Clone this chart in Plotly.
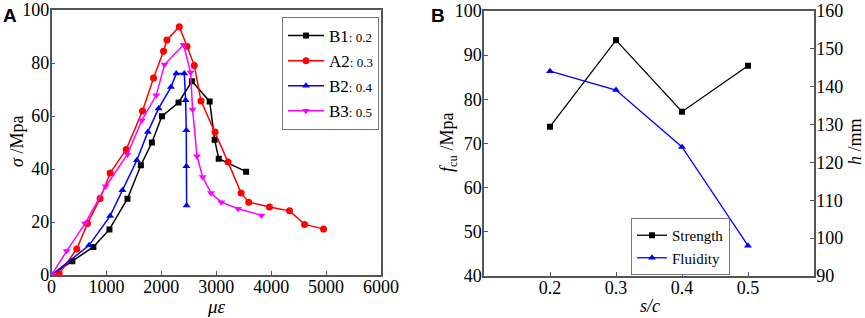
import plotly.graph_objects as go

# ---- Panel A data (stress-strain) ----
b1_x = [0, 380, 763, 1055, 1383, 1628, 1828, 2011, 2314, 2558, 2880, 2971, 3045, 3544]
b1_y = [0, 5.2, 10.6, 17.2, 28.8, 41.4, 50, 59.9, 65.1, 73.1, 65.5, 51, 43.9, 39]
a2_x = [0, 140, 460, 654, 885, 1068, 1360, 1657, 1858, 2040, 2102, 2327, 2467, 2600, 2722,
        2978, 3215, 3452, 3591, 3969, 4334, 4608, 4954]
a2_y = [0, 0.5, 9.8, 19.4, 28.9, 38.5, 47.4, 61.9, 74.3, 84.4, 88.7, 93.7, 86.3, 79.1, 65.7,
        54.0, 42.6, 30.9, 27.5, 25.7, 24.2, 19.1, 17.4]
b2_x = [0, 684, 1068, 1292, 1554, 1755, 1949, 2175, 2272, 2418, 2442, 2454, 2456, 2460]
b2_y = [0, 11.2, 22.3, 32, 43.3, 54, 62.8, 70.9, 76, 76, 65.9, 54.6, 41, 26.2]
b3_x = [0, 277, 611, 989, 1383, 1646, 1907, 2058, 2405, 2533, 2569, 2650, 2752, 2905, 3093,
        3398, 3823]
b3_y = [0, 9.1, 19.4, 33.5, 45.5, 58.4, 67.8, 79.4, 86.9, 76.4, 62.5, 44.8, 37, 30.9, 27.5,
        25, 22.5]
series_names = ["B1", "A2", "B2", "B3"]
series_ratio = ["0.2", "0.3", "0.4", "0.5"]

# ---- Panel B data ----
sc = [0.2, 0.3, 0.4, 0.5]
strength = [73.8, 93.4, 77.2, 87.6]
fluidity = [144.1, 139.1, 124.1, 98.0]

W, H = 865, 318
SERIF = "Liberation Serif, Times New Roman, serif"
AX = "#555555"

def px_x(p):
    return p / W

def px_y(p):
    return 1 - p / H

fig = go.Figure()

styles = [
    ("black", "square", 6),
    ("#ff0000", "circle", 7),
    ("#0000ff", "triangle-up", 7),
    ("#ff00ff", "triangle-down", 7),
]
data_a = [(b1_x, b1_y), (a2_x, a2_y), (b2_x, b2_y), (b3_x, b3_y)]
for (xs, ys), name, ratio, (col, sym, ms) in zip(data_a, series_names, series_ratio, styles):
    fig.add_trace(go.Scatter(
        x=xs, y=ys, mode="lines+markers",
        name=f"{name}<span style='font-size:13px'>: {ratio}</span>",
        line=dict(color=col, width=1.5),
        marker=dict(color=col, symbol=sym, size=ms),
        xaxis="x", yaxis="y", legend="legend",
    ))

fig.add_trace(go.Scatter(
    x=sc, y=strength, mode="lines+markers", name="Strength",
    line=dict(color="black", width=1.3), marker=dict(color="black", symbol="square", size=6),
    xaxis="x2", yaxis="y2", legend="legend2",
))
fig.add_trace(go.Scatter(
    x=sc, y=fluidity, mode="lines+markers", name="Fluidity",
    line=dict(color="#0000ff", width=1.3), marker=dict(color="#0000ff", symbol="triangle-up", size=7),
    xaxis="x2", yaxis="y3", legend="legend2",
))

axis_common = dict(
    showline=True, linecolor=AX, linewidth=1.5, mirror=True,
    ticks="inside", ticklen=4, tickcolor=AX, tickwidth=1.2,
    showgrid=False, zeroline=False, automargin=False,
    tickfont=dict(family=SERIF, size=18, color="black"),
    title=dict(text=""),
)
xcommon = {**axis_common, "ticklabelstandoff": -5}
ycommon = {**axis_common, "ticklabelstandoff": -3}

fig.update_layout(
    template="none",
    width=W, height=H,
    margin=dict(l=0, r=0, t=0, b=0, pad=0),
    font=dict(family=SERIF, color="black"),
    paper_bgcolor="white", plot_bgcolor="white",
    xaxis=dict(domain=[px_x(51.5), px_x(381)], range=[0, 6000], dtick=1000, anchor="y", **xcommon),
    yaxis=dict(domain=[px_y(275), px_y(10)], range=[0, 100], dtick=20, anchor="x", **ycommon),
    xaxis2=dict(domain=[px_x(484), px_x(814)], range=[0.1, 0.6], tickvals=[0.2, 0.3, 0.4, 0.5],
                ticktext=["0.2", "0.3", "0.4", "0.5"], anchor="y2", **xcommon),
    yaxis2=dict(domain=[px_y(276), px_y(11)], range=[40, 100], dtick=10, anchor="x2",
                **{**ycommon, "mirror": False}),
    yaxis3=dict(range=[90, 160], dtick=10, overlaying="y2", side="right", anchor="x2",
                **{**ycommon, "mirror": False}),
    legend=dict(
        x=px_x(282), y=px_y(17), xanchor="left", yanchor="top",
        bordercolor="#777777", borderwidth=1, bgcolor="white",
        font=dict(family=SERIF, size=17, color="black"),
        itemwidth=36, tracegroupgap=0,
    ),
    legend2=dict(
        x=px_x(631), y=px_y(218), xanchor="left", yanchor="top",
        bordercolor="#777777", borderwidth=1, bgcolor="white",
        font=dict(family=SERIF, size=15, color="black"),
        itemwidth=30, tracegroupgap=0,
    ),
    showlegend=True,
)

annotations = [
    dict(text="<b>A</b>", x=px_x(1), y=px_y(3), xanchor="left", yanchor="top",
         font=dict(family="Liberation Sans", size=19, color="black")),
    dict(text="<b>B</b>", x=px_x(429), y=px_y(3), xanchor="left", yanchor="top",
         font=dict(family="Liberation Sans", size=19, color="black")),
    dict(text="<i>σ</i> /Mpa", x=px_x(17), y=px_y(142), textangle=-90,
         xanchor="center", yanchor="middle",
         font=dict(family=SERIF, size=18, color="black")),
    dict(text="<i>με</i>", x=px_x(216), y=px_y(306),
         xanchor="center", yanchor="middle",
         font=dict(family=SERIF, size=19, color="black")),
    dict(text="<i>f</i><sub>cu</sub> /Mpa", x=px_x(448), y=px_y(142), textangle=-90,
         xanchor="center", yanchor="middle",
         font=dict(family=SERIF, size=18, color="black")),
    dict(text="<i>h</i> /mm", x=px_x(855), y=px_y(142), textangle=-90,
         xanchor="center", yanchor="middle",
         font=dict(family=SERIF, size=18, color="black")),
    dict(text="<i>s/c</i>", x=px_x(650), y=px_y(306),
         xanchor="center", yanchor="middle",
         font=dict(family=SERIF, size=18, color="black")),
]
for a in annotations:
    a.update(xref="paper", yref="paper", showarrow=False)
fig.update_layout(annotations=annotations)

fig.write_html(
    "out.html",
    config={"displayModeBar": False},
    post_script="document.body.style.margin='0px';document.body.style.overflow='hidden';",
)
